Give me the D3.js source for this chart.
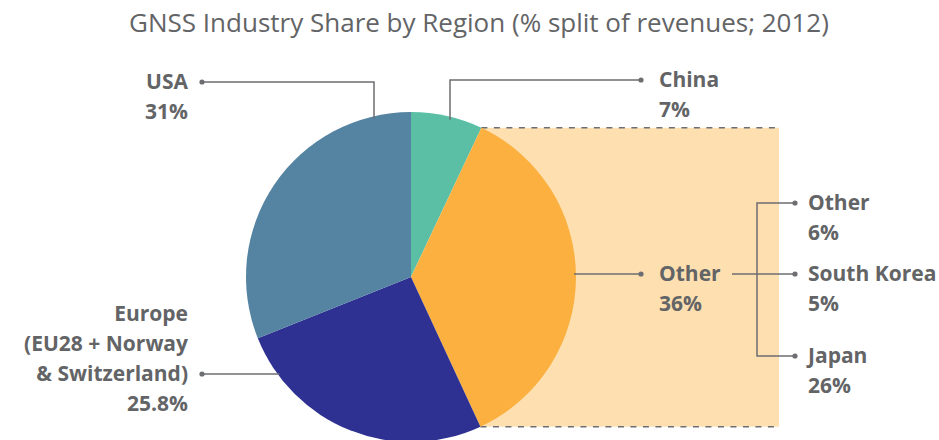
<!DOCTYPE html>
<html>
<head>
<meta charset="utf-8">
<script src="https://cdn.jsdelivr.net/npm/d3@7"></script>
<style>
  body { margin: 0; background: #fff; }
  svg text { font-family: "Open Sans", sans-serif; fill: #636466; }
</style>
</head>
<body>
<svg id="chart"></svg>
<script>
// data
const regions = ["China", "Other", "Europe", "USA"];
const shares = [7, 36, 25.8, 31];
const shareText = ["7%", "36%", "25.8%", "31%"];
const colors = ["#5bbfa6", "#fbb040", "#2e3192", "#5583a2"];
const subRegions = ["Other", "South Korea", "Japan"];
const subShares = ["6%", "5%", "26%"];

const width = 939, height = 440;
const cx = 411, cy = 277, r = 165;
const lineColor = "#6d6e71";

const svg = d3.select("#chart")
    .attr("width", width)
    .attr("height", height);

// title
svg.append("text")
    .attr("x", 479)
    .attr("y", 32)
    .attr("text-anchor", "middle")
    .style("font-size", "26px")
    .text("GNSS Industry Share by Region (% split of revenues; 2012)");

const pie = d3.pie().sort(null).value(d => d)(shares);
const arc = d3.arc().innerRadius(0).outerRadius(r);

// point on the circle for a given angle (0 = 12 o'clock, clockwise)
const onCircle = a => [cx + r * Math.sin(a), cy - r * Math.cos(a)];

// highlight band behind the "Other" slice
const other = pie[1];
const pTop = onCircle(other.startAngle), pBot = onCircle(other.endAngle);
const bandRight = 779;
svg.append("rect")
    .attr("x", pTop[0])
    .attr("y", pTop[1])
    .attr("width", bandRight - pTop[0])
    .attr("height", pBot[1] - pTop[1])
    .attr("fill", "#fddfb0");
[pTop, pBot].forEach(p => {
  svg.append("line")
      .attr("x1", p[0]).attr("y1", p[1])
      .attr("x2", bandRight).attr("y2", p[1])
      .attr("stroke", lineColor)
      .attr("stroke-width", 1.5)
      .attr("stroke-dasharray", "6,6.5");
});

// slices
svg.append("g")
    .attr("transform", `translate(${cx},${cy})`)
  .selectAll("path")
  .data(pie)
  .join("path")
    .attr("d", arc)
    .attr("fill", (d, i) => colors[i]);

// leader lines
const leaders = svg.append("g")
    .attr("fill", "none")
    .attr("stroke", lineColor)
    .attr("stroke-width", 1.5);
const dots = [];

function edgeY(x, sign) { return cy + sign * Math.sqrt(r * r - (x - cx) * (x - cx)); }

// USA: from label to vertical drop into slice
leaders.append("polyline").attr("points", `202,82 374,82 374,${edgeY(374, -1) + 2}`);
dots.push([202, 82]);
// China
leaders.append("polyline").attr("points", `641,80 450,80 450,${edgeY(450, -1) + 3}`);
dots.push([641, 80]);
// Other
leaders.append("line").attr("x1", cx + r - 2).attr("y1", 274).attr("x2", 641).attr("y2", 274);
dots.push([641, 274]);
// Europe
leaders.append("line").attr("x1", 202).attr("y1", 374).attr("x2", cx - Math.sqrt(r * r - (374 - cy) ** 2) + 2).attr("y2", 374);
dots.push([202, 374]);
// breakdown bracket
const subY = [203, 274, 356];
leaders.append("line").attr("x1", 732).attr("y1", 274).attr("x2", 795).attr("y2", 274);
leaders.append("polyline").attr("points", `795,${subY[0]} 757,${subY[0]} 757,${subY[2]} 795,${subY[2]}`);
dots.push([795, subY[0]], [795, subY[1]], [795, subY[2]]);

svg.append("g")
  .selectAll("circle")
  .data(dots)
  .join("circle")
    .attr("cx", d => d[0])
    .attr("cy", d => d[1])
    .attr("r", 2.6)
    .attr("fill", lineColor);

// labels
function label(x, y, lines, anchor) {
  const t = svg.append("text")
      .attr("x", x)
      .attr("y", y)
      .attr("text-anchor", anchor)
      .style("font-size", "21px")
      .style("font-weight", "bold");
  lines.forEach((s, i) => {
    t.append("tspan").attr("x", x).attr("y", y + i * 30).text(s);
  });
}

label(188, 89, [regions[3], shareText[3]], "end");
label(659, 87, [regions[0], shareText[0]], "start");
label(659, 281, [regions[1], shareText[1]], "start");
label(188, 321, [regions[2], "(EU28 + Norway", "& Switzerland)", shareText[2]], "end");
subRegions.forEach((s, i) => {
  label(808, subY[i] + 7, [s, subShares[i]], "start");
});
</script>
</body>
</html>
